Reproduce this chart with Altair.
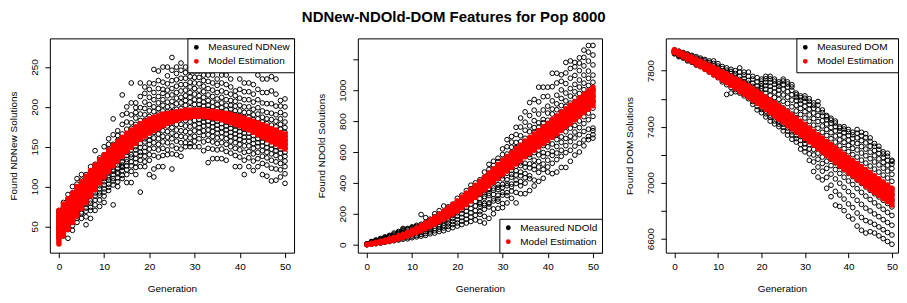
import altair as alt
import pandas as pd

FONT = "Liberation Sans"
GENERATIONS = list(range(51))
X_TICKS = [0, 10, 20, 30, 40, 50]

# ---------------- NDNew ----------------
NDNEW_MEASURED = [
    [35, 39, 42, 46, 48, 51, 55, 56, 60, 63, 67, 70],
    [38, 44, 47, 50, 54, 55, 59, 61, 65, 69, 74, 80],
    [35, 46, 50, 53, 57, 61, 62, 66, 70, 75, 83, 90],
    [45, 51, 56, 59, 63, 67, 70, 73, 78, 84, 92, 100],
    [55, 60, 63, 68, 71, 74, 79, 83, 88, 95, 103, 110],
    [60, 66, 68, 73, 77, 80, 84, 89, 96, 101, 108, 115],
    [52, 62, 69, 73, 78, 83, 86, 90, 97, 103, 110, 115],
    [60, 70, 74, 79, 82, 88, 91, 95, 99, 107, 117, 125],
    [70, 77, 83, 88, 92, 96, 100, 104, 111, 119, 128, 145],
    [75, 83, 89, 92, 97, 101, 106, 109, 115, 122, 130, 136],
    [80, 88, 93, 97, 102, 106, 110, 114, 121, 129, 140, 150],
    [95, 99, 103, 108, 111, 114, 118, 121, 125, 130, 134, 140, 147, 153, 160],
    [77, 102, 107, 110, 115, 119, 121, 126, 130, 134, 139, 146, 153, 165, 185],
    [100, 106, 111, 116, 118, 123, 127, 131, 136, 140, 146, 151, 158, 164, 170],
    [110, 114, 120, 124, 125, 127, 131, 136, 140, 145, 151, 157, 166, 178, 190, 215],
    [105, 115, 121, 126, 131, 134, 139, 143, 149, 153, 158, 165, 172, 181, 192, 200],
    [105, 119, 126, 131, 137, 140, 146, 150, 155, 161, 166, 173, 180, 190, 205, 230],
    [115, 124, 130, 135, 141, 146, 150, 155, 161, 166, 172, 178, 186, 193, 199, 205],
    [93, 125, 133, 139, 143, 149, 154, 160, 165, 170, 176, 183, 191, 199, 213, 230],
    [125, 131, 138, 144, 149, 156, 160, 166, 171, 177, 183, 190, 198, 206, 217, 225],
    [115, 133, 140, 147, 153, 158, 164, 170, 176, 181, 188, 195, 203, 212, 222, 230],
    [112, 122, 139, 148, 155, 161, 168, 174, 180, 187, 194, 200, 209, 218, 229, 247],
    [125, 137, 146, 153, 160, 166, 172, 179, 185, 191, 198, 205, 213, 223, 233, 245],
    [125, 139, 148, 156, 163, 170, 176, 182, 188, 195, 202, 209, 217, 222, 231, 250],
    [140, 146, 155, 162, 169, 176, 181, 187, 194, 200, 206, 214, 221, 229, 239, 250],
    [122, 141, 151, 160, 167, 174, 181, 188, 194, 201, 207, 215, 223, 233, 246, 262],
    [140, 148, 157, 164, 171, 178, 185, 191, 197, 204, 211, 218, 226, 234, 242, 250],
    [138, 147, 155, 163, 170, 178, 185, 192, 198, 205, 212, 220, 228, 236, 246, 255],
    [150, 155, 162, 169, 176, 183, 189, 195, 202, 208, 214, 221, 228, 236, 243, 250],
    [150, 154, 161, 168, 175, 181, 187, 193, 199, 206, 212, 218, 225, 231, 238, 245],
    [150, 157, 163, 170, 177, 183, 190, 196, 203, 209, 216, 223, 230, 237, 244, 250],
    [150, 160, 168, 174, 179, 184, 189, 193, 198, 203, 208, 214, 221, 229, 237, 245],
    [145, 156, 164, 170, 176, 181, 186, 191, 196, 201, 206, 212, 219, 226, 233, 240],
    [130, 148, 158, 165, 171, 177, 182, 187, 192, 197, 202, 208, 215, 223, 232, 240],
    [135, 147, 156, 163, 169, 175, 180, 185, 190, 195, 200, 206, 213, 221, 230, 240],
    [135, 146, 154, 161, 167, 172, 177, 182, 187, 192, 197, 203, 210, 218, 227, 235],
    [135, 147, 155, 162, 168, 174, 179, 184, 189, 194, 199, 205, 212, 220, 230, 240],
    [133, 144, 153, 160, 166, 171, 176, 181, 186, 191, 196, 202, 209, 218, 228, 240],
    [142, 150, 157, 163, 168, 173, 178, 183, 187, 192, 197, 202, 208, 216, 225, 235],
    [125, 139, 148, 155, 161, 166, 171, 176, 180, 185, 190, 195, 201, 207, 214, 220],
    [125, 137, 146, 153, 159, 164, 169, 174, 179, 184, 189, 195, 202, 211, 222, 235],
    [115, 133, 143, 151, 157, 162, 167, 172, 177, 182, 187, 193, 200, 209, 219, 230],
    [125, 136, 144, 151, 157, 162, 167, 172, 177, 182, 187, 193, 200, 209, 219, 230],
    [120, 132, 141, 148, 154, 159, 164, 169, 174, 179, 184, 190, 197, 206, 216, 228],
    [125, 135, 143, 150, 155, 160, 165, 170, 175, 180, 185, 191, 199, 209, 222, 240],
    [115, 129, 138, 145, 151, 156, 161, 166, 171, 176, 181, 187, 195, 205, 218, 235],
    [113, 127, 136, 143, 149, 154, 159, 164, 169, 174, 179, 185, 193, 204, 218, 235],
    [107, 123, 133, 141, 147, 152, 157, 162, 167, 172, 177, 184, 192, 204, 220, 238],
    [108, 122, 131, 139, 145, 150, 155, 160, 165, 170, 175, 182, 190, 201, 216, 235],
    [112, 121, 129, 136, 142, 147, 152, 157, 162, 167, 172, 178, 185, 193, 201, 208],
    [104, 116, 125, 132, 138, 143, 148, 153, 158, 163, 168, 174, 181, 190, 200, 210],
]
NDNEW_MODEL_LOW = [28, 38, 46, 55, 63, 72, 80, 88, 96, 104, 112, 119, 126, 132, 138,
                   144, 149, 154, 159, 163, 167, 170, 173, 176, 179, 181, 183, 185, 186,
                   187, 188, 188, 188, 187, 186, 185, 184, 182, 180, 178, 176, 173, 171,
                   168, 165, 162, 159, 156, 153, 150, 147]
NDNEW_MODEL_HIGH = [70, 78, 85, 92, 100, 106, 113, 120, 127, 134, 140, 146, 152, 157, 162,
                    167, 171, 175, 179, 182, 185, 187, 189, 191, 192, 193, 194, 195, 196,
                    196, 196, 196, 196, 195, 195, 194, 193, 192, 191, 189, 188, 186, 184,
                    182, 180, 178, 176, 173, 171, 168, 166]

# ---------------- NDOld ----------------
NDOLD_MEASURED = [
    [0, 0, 1, 1, 2, 2, 3, 3, 4, 5],
    [3, 5, 7, 9, 10, 12, 14, 16, 18, 20],
    [6, 9, 12, 15, 17, 20, 22, 25, 28, 30],
    [10, 14, 18, 21, 24, 27, 30, 33, 36, 40],
    [15, 19, 23, 27, 31, 35, 39, 43, 46, 50],
    [20, 25, 30, 34, 38, 42, 47, 52, 56, 60],
    [25, 31, 36, 41, 46, 51, 56, 62, 68, 75],
    [30, 36, 42, 48, 54, 60, 66, 72, 78, 85],
    [35, 44, 52, 60, 67, 74, 82, 90, 98, 105],
    [38, 48, 56, 64, 72, 80, 88, 96, 100, 105],
    [45, 55, 64, 72, 80, 88, 96, 104, 110, 115],
    [50, 60, 70, 80, 88, 96, 104, 112, 118, 125],
    [55, 66, 78, 88, 98, 108, 116, 124, 132, 195],
    [60, 72, 84, 96, 108, 118, 128, 136, 145, 175],
    [70, 82, 96, 108, 120, 132, 142, 150, 158, 165],
    [75, 90, 105, 120, 134, 146, 158, 168, 180, 200],
    [85, 100, 116, 130, 146, 160, 172, 184, 198, 220],
    [90, 108, 124, 140, 156, 172, 186, 200, 215, 250],
    [100, 118, 136, 154, 172, 188, 204, 218, 232, 245],
    [110, 130, 150, 170, 190, 208, 224, 238, 252, 262],
    [120, 140, 162, 184, 206, 226, 246, 262, 280, 300],
    [130, 152, 176, 200, 224, 248, 268, 288, 305, 320],
    [140, 165, 190, 216, 242, 266, 290, 312, 332, 350],
    [150, 178, 206, 234, 262, 290, 316, 340, 362, 385],
    [160, 190, 220, 250, 280, 308, 334, 356, 378, 400],
    [150, 196, 214, 247, 262, 271, 298, 326, 333, 361, 377, 385, 404, 420],
    [140, 183, 229, 254, 266, 301, 312, 339, 350, 372, 395, 418, 437, 470],
    [170, 244, 263, 271, 318, 331, 357, 364, 391, 420, 436, 449, 487, 520],
    [200, 231, 283, 297, 325, 352, 366, 401, 412, 425, 468, 489, 512, 540],
    [235, 281, 296, 319, 357, 371, 389, 427, 440, 463, 491, 502, 538, 560],
    [240, 266, 321, 338, 371, 389, 425, 446, 468, 493, 511, 547, 583, 620],
    [270, 318, 337, 381, 396, 420, 462, 478, 513, 524, 566, 587, 634, 680],
    [300, 347, 375, 392, 437, 455, 481, 520, 549, 566, 598, 631, 664, 700],
    [270, 338, 396, 418, 451, 479, 508, 533, 571, 597, 628, 662, 713, 760],
    [330, 381, 408, 446, 470, 512, 530, 573, 601, 618, 667, 705, 762, 820],
    [330, 398, 433, 461, 502, 527, 571, 590, 622, 668, 689, 741, 793, 860],
    [350, 427, 446, 497, 523, 566, 583, 628, 661, 683, 731, 769, 836, 920],
    [380, 418, 487, 512, 547, 596, 615, 652, 700, 727, 758, 803, 871, 940],
    [410, 468, 503, 539, 581, 613, 652, 688, 713, 761, 789, 846, 925, 1020],
    [430, 487, 522, 571, 596, 642, 681, 705, 748, 789, 811, 872, 958, 1020],
    [470, 503, 547, 589, 633, 664, 702, 741, 773, 806, 852, 897, 961, 1020],
    [460, 527, 578, 604, 652, 697, 724, 768, 801, 846, 878, 931, 1023, 1110],
    [470, 551, 593, 636, 681, 712, 759, 793, 831, 874, 912, 968, 1047, 1110],
    [500, 572, 611, 663, 698, 746, 782, 827, 860, 901, 947, 1002, 1058, 1100],
    [500, 596, 641, 688, 731, 769, 814, 853, 895, 931, 982, 1043, 1112, 1180],
    [540, 611, 667, 702, 754, 798, 836, 881, 917, 962, 1011, 1078, 1141, 1190],
    [580, 638, 691, 729, 772, 826, 862, 907, 951, 990, 1038, 1096, 1152, 1180],
    [600, 657, 712, 758, 801, 849, 893, 932, 979, 1021, 1066, 1127, 1176, 1210],
    [640, 678, 733, 784, 829, 873, 917, 961, 1004, 1046, 1098, 1158, 1213, 1260],
    [680, 701, 748, 809, 852, 898, 943, 987, 1031, 1077, 1124, 1189, 1247, 1290],
    [690, 712, 738, 755, 831, 884, 927, 961, 1003, 1052, 1098, 1164, 1228, 1290],
]
NDOLD_MODEL_LOW = [0, 3, 7, 12, 17, 22, 29, 37, 46, 56, 66, 78, 90, 103, 117, 132, 148,
                   164, 181, 199, 217, 238, 259, 282, 305, 329, 354, 379, 404, 429, 454,
                   477, 500, 523, 546, 569, 590, 611, 632, 653, 674, 696, 718, 740, 763,
                   785, 808, 831, 854, 877, 900]
NDOLD_MODEL_HIGH = [3, 9, 15, 22, 29, 38, 47, 57, 68, 80, 94, 108, 124, 141, 159, 178,
                    198, 218, 239, 261, 283, 308, 333, 358, 385, 411, 438, 465, 492, 519,
                    546, 571, 596, 621, 646, 671, 694, 717, 740, 763, 786, 810, 834, 858,
                    881, 905, 928, 951, 974, 997, 1020]

# ---------------- DOM ----------------
DOM_MEASURED = [
    [7920, 7925, 7928, 7932, 7935, 7938, 7940, 7943, 7946, 7950],
    [7900, 7906, 7910, 7914, 7918, 7922, 7926, 7930, 7935, 7940],
    [7890, 7895, 7899, 7903, 7907, 7911, 7915, 7920, 7925, 7930],
    [7870, 7877, 7883, 7888, 7893, 7898, 7903, 7908, 7914, 7920],
    [7860, 7866, 7871, 7876, 7881, 7886, 7891, 7896, 7903, 7910],
    [7840, 7847, 7853, 7859, 7865, 7871, 7877, 7883, 7891, 7900],
    [7830, 7836, 7842, 7848, 7854, 7860, 7866, 7873, 7881, 7890],
    [7810, 7818, 7825, 7832, 7839, 7846, 7853, 7860, 7870, 7880],
    [7790, 7798, 7806, 7814, 7822, 7830, 7838, 7847, 7858, 7870],
    [7770, 7779, 7788, 7797, 7806, 7815, 7824, 7835, 7852, 7870],
    [7750, 7760, 7770, 7779, 7788, 7797, 7806, 7817, 7833, 7850],
    [7720, 7732, 7744, 7755, 7766, 7777, 7788, 7800, 7815, 7830],
    [7630, 7700, 7718, 7732, 7746, 7760, 7774, 7788, 7804, 7820],
    [7640, 7680, 7700, 7716, 7732, 7748, 7764, 7780, 7795, 7810],
    [7650, 7665, 7682, 7698, 7714, 7730, 7746, 7762, 7780, 7800],
    [7640, 7650, 7666, 7684, 7702, 7720, 7738, 7760, 7790, 7820],
    [7620, 7632, 7650, 7668, 7686, 7704, 7722, 7744, 7770, 7790],
    [7600, 7612, 7630, 7650, 7670, 7690, 7710, 7730, 7760, 7790],
    [7560, 7580, 7600, 7622, 7644, 7666, 7688, 7710, 7740, 7760],
    [7520, 7545, 7570, 7594, 7618, 7642, 7666, 7690, 7720, 7750],
    [7500, 7523, 7538, 7556, 7571, 7590, 7612, 7634, 7655, 7672, 7690, 7708, 7726, 7740],
    [7470, 7492, 7511, 7534, 7552, 7568, 7589, 7610, 7639, 7668, 7694, 7717, 7742, 7760],
    [7440, 7467, 7483, 7509, 7526, 7548, 7566, 7591, 7624, 7661, 7689, 7716, 7741, 7760],
    [7420, 7441, 7463, 7480, 7502, 7524, 7545, 7571, 7609, 7648, 7676, 7703, 7725, 7740],
    [7400, 7418, 7439, 7461, 7482, 7503, 7528, 7555, 7596, 7632, 7662, 7688, 7706, 7720],
    [7370, 7395, 7418, 7437, 7456, 7478, 7503, 7534, 7582, 7627, 7668, 7701, 7726, 7740],
    [7340, 7368, 7391, 7412, 7433, 7455, 7481, 7513, 7566, 7611, 7650, 7683, 7705, 7720],
    [7310, 7342, 7363, 7386, 7408, 7430, 7458, 7490, 7542, 7590, 7628, 7660, 7684, 7700],
    [7290, 7315, 7337, 7359, 7381, 7405, 7432, 7465, 7512, 7553, 7587, 7611, 7628, 7640],
    [7240, 7274, 7302, 7329, 7352, 7377, 7404, 7438, 7487, 7530, 7563, 7588, 7607, 7620],
    [7220, 7249, 7278, 7303, 7327, 7352, 7381, 7415, 7462, 7507, 7546, 7579, 7603, 7620],
    [7160, 7206, 7241, 7272, 7298, 7324, 7354, 7389, 7438, 7484, 7524, 7558, 7582, 7600],
    [7080, 7148, 7198, 7238, 7270, 7297, 7327, 7362, 7411, 7458, 7498, 7531, 7554, 7570],
    [7040, 7112, 7168, 7211, 7246, 7274, 7304, 7339, 7389, 7437, 7480, 7521, 7555, 7580],
    [7020, 7082, 7137, 7183, 7219, 7248, 7278, 7312, 7360, 7405, 7443, 7476, 7501, 7520],
    [6960, 7038, 7102, 7153, 7192, 7224, 7255, 7290, 7337, 7381, 7419, 7450, 7470, 7480],
    [6900, 6982, 7061, 7122, 7167, 7201, 7232, 7267, 7314, 7357, 7394, 7425, 7447, 7460],
    [6840, 6938, 7027, 7094, 7141, 7176, 7208, 7243, 7290, 7333, 7370, 7402, 7426, 7440],
    [6830, 6912, 6996, 7066, 7116, 7152, 7183, 7218, 7264, 7306, 7341, 7369, 7389, 7400],
    [6800, 6883, 6967, 7039, 7091, 7128, 7160, 7195, 7243, 7288, 7326, 7358, 7383, 7400],
    [6760, 6848, 6936, 7012, 7066, 7105, 7138, 7173, 7221, 7266, 7304, 7337, 7363, 7380],
    [6740, 6822, 6908, 6987, 7043, 7083, 7117, 7152, 7200, 7245, 7284, 7316, 7342, 7360],
    [6690, 6783, 6874, 6958, 7018, 7060, 7095, 7132, 7183, 7234, 7280, 7320, 7354, 7380],
    [6660, 6752, 6845, 6931, 6994, 7038, 7073, 7110, 7161, 7212, 7258, 7300, 7336, 7360],
    [6640, 6729, 6818, 6904, 6969, 7014, 7050, 7088, 7140, 7192, 7240, 7284, 7322, 7350],
    [6650, 6718, 6798, 6880, 6945, 6991, 7028, 7066, 7119, 7171, 7218, 7260, 7295, 7320],
    [6640, 6702, 6777, 6856, 6921, 6968, 7006, 7044, 7097, 7148, 7192, 7230, 7260, 7280],
    [6620, 6684, 6757, 6833, 6898, 6945, 6984, 7023, 7076, 7127, 7170, 7208, 7238, 7260],
    [6600, 6664, 6736, 6810, 6874, 6921, 6961, 7001, 7054, 7104, 7145, 7180, 7205, 7220],
    [6580, 6644, 6716, 6788, 6851, 6898, 6939, 6980, 7033, 7083, 7125, 7160, 7189, 7210],
    [6560, 6626, 6696, 6766, 6827, 6875, 6916, 6958, 7010, 7060, 7101, 7133, 7152, 7160],
]
DOM_MODEL_LOW = [7930, 7914, 7898, 7882, 7864, 7846, 7828, 7810, 7791, 7772, 7754, 7734,
                 7714, 7694, 7673, 7652, 7631, 7610, 7589, 7568, 7546, 7523, 7500, 7477,
                 7454, 7431, 7407, 7384, 7361, 7338, 7315, 7291, 7267, 7243, 7219, 7195,
                 7170, 7145, 7120, 7095, 7070, 7047, 7023, 7000, 6976, 6953, 6930, 6908,
                 6885, 6863, 6840]
DOM_MODEL_HIGH = [7950, 7938, 7924, 7910, 7896, 7882, 7868, 7854, 7839, 7824, 7810, 7794,
                  7778, 7762, 7745, 7728, 7711, 7692, 7673, 7654, 7634, 7613, 7592, 7571,
                  7550, 7529, 7507, 7484, 7461, 7438, 7415, 7391, 7367, 7343, 7319, 7295,
                  7272, 7249, 7226, 7203, 7180, 7159, 7137, 7116, 7094, 7073, 7050, 7028,
                  7005, 6983, 6960]

MODEL_LABEL = "Model Estimation"


def panel(measured, low, high, label, ytitle, ydomain, yticks, label_expr, legend_orient,
          xmax=52, width=245):
    rows = [{"Generation": g, "value": v, "series": label}
            for g, vals in zip(GENERATIONS, measured) for v in vals]
    meas_df = pd.DataFrame(rows)
    model_df = pd.DataFrame({"Generation": GENERATIONS, "lo": low, "hi": high,
                             "series": MODEL_LABEL})
    color = alt.Color(
        "series:N",
        scale=alt.Scale(domain=[label, MODEL_LABEL], range=["#000000", "#ff0000"]),
        legend=alt.Legend(
            title=None, orient=legend_orient, offset=0, padding=4,
            strokeColor="#000000", fillColor="#ffffff", symbolType="circle",
            symbolSize=6, symbolStrokeWidth=2.4, labelFont=FONT, labelFontSize=10,
            labelColor="#000000", rowPadding=0, labelOffset=7,
        ),
    )
    x_scale = alt.Scale(domain=[-2, xmax], nice=False, zero=False)
    x_axis = alt.Axis(values=X_TICKS, title="Generation", format="d")
    y_axis_kwargs = dict(values=yticks, title=ytitle, format="d", labelAngle=270,
                         labelAlign="center", labelBaseline="bottom",
                         labelOverlap=False, labelSeparation=0, labelBound=False)
    if label_expr:
        y_axis_kwargs["labelExpr"] = label_expr
    y_scale = alt.Scale(domain=ydomain, nice=False, zero=False)
    y_axis = alt.Axis(**y_axis_kwargs)
    pts = alt.Chart(meas_df).mark_point(
        filled=False, size=22, strokeWidth=1.0, opacity=1, shape="circle"
    ).encode(
        x=alt.X("Generation:Q", scale=x_scale, axis=x_axis),
        y=alt.Y("value:Q", scale=y_scale, axis=y_axis),
        color=color,
    )
    band = alt.Chart(model_df).mark_rule(strokeWidth=5.5, strokeCap="round").encode(
        x=alt.X("Generation:Q", scale=x_scale, axis=x_axis),
        y=alt.Y("lo:Q", scale=y_scale, axis=y_axis),
        y2="hi:Q",
        color=color,
    )
    return alt.layer(pts, band).properties(width=width, height=215)


p1 = panel(NDNEW_MEASURED, NDNEW_MODEL_LOW, NDNEW_MODEL_HIGH, "Measured NDNew",
           "Found NDNew Solutions", [17, 286], [50, 100, 150, 200, 250], None, "top-right")
p2 = panel(NDOLD_MEASURED, NDOLD_MODEL_LOW, NDOLD_MODEL_HIGH, "Measured NDOld",
           "Found NDOld Solutions", [-52, 1336], [0, 200, 400, 600, 800, 1000, 1200],
           "datum.value == 1200 ? '' : datum.label", "bottom-right")
p3 = panel(DOM_MEASURED, DOM_MODEL_LOW, DOM_MODEL_HIGH, "Measured DOM",
           "Found DOM Solutions", [6500, 8031], [6600, 6800, 7000, 7200, 7400, 7600, 7800],
           "datum.value % 400 == 0 ? '' : datum.label", "top-right",
           xmax=51.4, width=233)

chart = alt.hconcat(p1, p2, p3, spacing=21).resolve_scale(
    color="independent", x="independent", y="independent"
).resolve_legend(color="independent").properties(
    title=alt.TitleParams("NDNew-NDOld-DOM Features for Pop 8000", font=FONT,
                          fontSize=15, fontWeight="bold", color="#000000",
                          anchor="middle", offset=12),
    padding={"left": 0, "top": 2, "right": 0, "bottom": 0},
    background="#ffffff",
).configure_view(stroke="#000000", strokeWidth=1).configure_axis(
    grid=False, domain=False, ticks=True, tickColor="#000000", tickSize=5,
    labelFont=FONT, labelFontSize=10, labelColor="#000000", labelPadding=5,
    titleFont=FONT, titleFontSize=10, titleFontWeight="normal", titleColor="#000000",
).configure_axisX(titlePadding=12, labelPadding=4).configure_axisY(
    titlePadding=11, labelOverlap=False)

chart.save("out.html", embed_options={"renderer": "svg", "actions": False})
